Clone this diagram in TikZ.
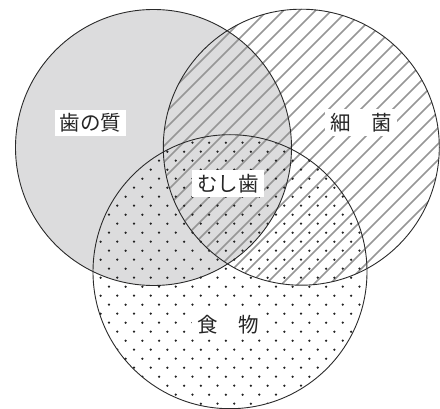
\documentclass[tikz,border=0pt]{standalone}
\usepackage{fontspec}
\newfontfamily\jp{Noto Sans CJK JP}
\definecolor{grayfill}{HTML}{DCDCDD}
\definecolor{hatchc}{HTML}{969696}
\definecolor{edgec}{HTML}{2A2A2A}
\definecolor{dotc}{HTML}{222222}
\tikzset{
  lbl/.style={fill=white, inner xsep=5pt, inner ysep=4pt, font=\jp\fontsize{20.5}{22}\selectfont, text=black!85},
  ring/.style={draw=edgec, line width=0.9pt},
  hatchline/.style={draw=hatchc, line width=1.7pt},
}
\begin{document}
\begin{tikzpicture}[x=1pt,y=-1pt]
\useasboundingbox (0,0) rectangle (440,409);
\coordinate (cL) at (153.5,147.5);
\coordinate (cR) at (301.3,147.2);
\coordinate (cB) at (230,271.7);
% gray fill of left circle
\fill[grayfill] (cL) circle[radius=138pt];
% hatching in right circle
\begin{scope}
  \clip (cR) circle[radius=138pt];
  \foreach \c in {150,166,...,750}{
    \draw[hatchline] (\c,0) -- (\c-500,500);
  }
\end{scope}
% dots in bottom circle
\begin{scope}
  \clip (cB) circle[radius=137pt];
  \foreach \k in {-18,...,13}{
    \pgfmathsetmacro\yy{295.7+9*\k}
    \pgfmathsetmacro\xo{0.4+8.35*mod(\k+18,2)}
    \foreach \m in {4,...,23}{
      \fill[dotc] (\xo+16.7*\m,\yy) circle[radius=1.25pt];
    }
  }
\end{scope}
% outlines
\draw[ring] (cL) circle[radius=138pt];
\draw[ring] (cR) circle[radius=138pt];
\draw[ring] (cB) circle[radius=137pt];
% labels
\node[lbl] (ha) at (90.5,123) {歯の質};
\node[lbl] (sai) at (361,122.5) {細　菌};
\node[lbl] (mu) at (228,183.5) {むし歯};
\node[lbl] (sh) at (228,325) {食　物};
\end{tikzpicture}
\end{document}
